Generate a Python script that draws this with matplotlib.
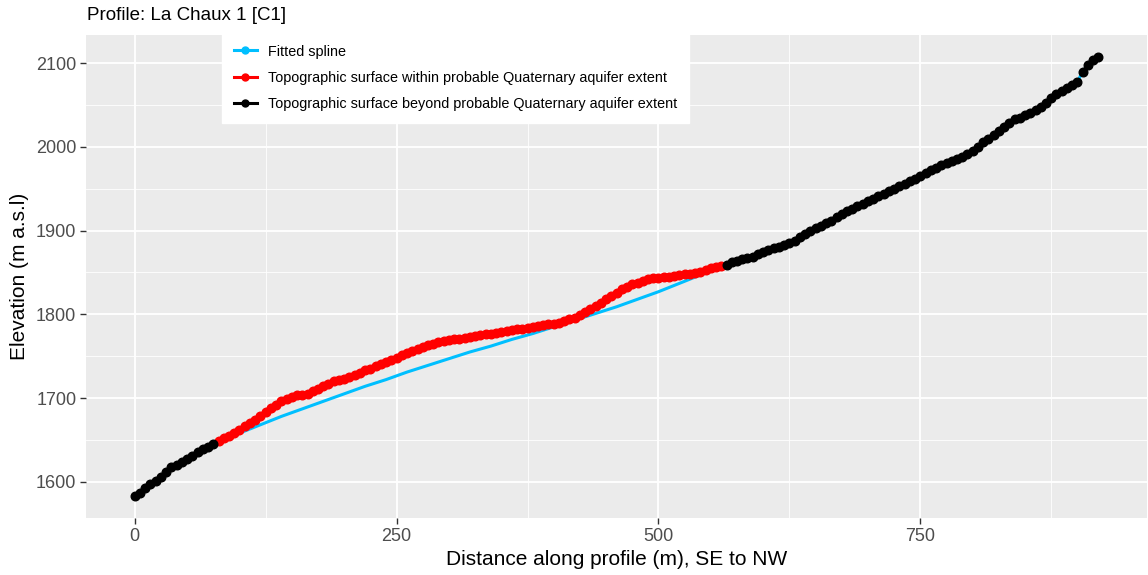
import numpy as np
import matplotlib
matplotlib.use('Agg')
import matplotlib.pyplot as plt
from matplotlib.lines import Line2D

plt.rcParams['font.family'] = ['Liberation Sans', 'DejaVu Sans']

#######################################################
# Profile data (distance in m, elevation in m a.s.l.)
Step = 5

# black points, SE end (0 .. 75 m)
Dist_SE = [0, 5, 10, 15, 20, 25, 30, 35, 40, 45, 50, 55, 60, 65, 70, 75]
Elev_SE = [1583, 1587, 1592, 1597, 1601, 1606, 1611, 1617, 1620, 1623, 1627,
           1631, 1635, 1639, 1642, 1645]

# red points, within the aquifer extent (80 .. 560 m)
Dist_Aq = list(range(80, 561, Step))
Elev_Aq = [1649, 1652, 1655, 1658, 1662, 1666, 1670, 1674, 1678, 1683,
           1688, 1692, 1696, 1699, 1701, 1703, 1704, 1705, 1708, 1711,
           1714, 1717, 1720, 1722, 1723, 1725, 1727, 1730, 1733, 1735,
           1738, 1741, 1743, 1746, 1748, 1751, 1754, 1756, 1759, 1761,
           1763, 1765, 1767, 1768, 1769, 1770, 1771, 1772, 1773, 1774,
           1775, 1776, 1777, 1778, 1779, 1780, 1781, 1782, 1783, 1784,
           1785, 1786, 1787, 1788, 1789, 1790, 1792, 1794, 1796, 1799,
           1803, 1806, 1810, 1814, 1818, 1822, 1826, 1830, 1833, 1836,
           1838, 1840, 1842, 1843, 1844, 1845, 1845, 1846, 1847, 1848,
           1848, 1849, 1851, 1853, 1855, 1856, 1858]

# black points, NW end (565 .. 920 m)
Dist_NW = list(range(565, 921, Step))
Elev_NW = [1859, 1862, 1864, 1866, 1867, 1869, 1872, 1874, 1877, 1879,
           1881, 1883, 1885, 1888, 1892, 1896, 1899, 1903, 1906, 1909,
           1912, 1916, 1920, 1923, 1926, 1929, 1932, 1935, 1938, 1941,
           1944, 1947, 1950, 1953, 1956, 1959, 1962, 1965, 1969, 1972,
           1975, 1978, 1981, 1983, 1986, 1988, 1991, 1995, 2000, 2006,
           2010, 2014, 2019, 2024, 2029, 2033, 2035, 2038, 2040, 2044,
           2048, 2053, 2058, 2063, 2067, 2070, 2074, 2078, 2090, 2098,
           2104, 2108]

# fitted spline below the aquifer section
Dist_Spline = [80, 100, 120, 140, 160, 180, 200, 220, 240, 260, 280, 300, 320,
               340, 360, 380, 400, 420, 440, 460, 480, 500, 520, 540, 560]
Elev_Spline = [1648, 1658, 1668, 1678, 1687, 1696, 1705, 1714, 1722, 1731,
               1739, 1747, 1755, 1762, 1770, 1777, 1785, 1793, 1801, 1809,
               1818, 1827, 1837, 1847, 1857]

# distances where the black line is broken
Breaks = [32, 807, 902]

Title = 'Profile: La Chaux 1 [C1]'
X_Label = 'Distance along profile (m), SE to NW'
Y_Label = 'Elevation (m a.s.l)'
Legend_Labels = ['Fitted spline',
                 'Topographic surface within probable Quaternary aquifer extent',
                 'Topographic surface beyond probable Quaternary aquifer extent']
#######################################################

Blue = '#00BFFF'
Red = '#FF0000'

fig = plt.figure(figsize=(11.48, 5.75), dpi=100)
ax = fig.add_axes([86/1148, 1-518/575, 1061/1148, 483/575])
ax.set_facecolor('#EBEBEB')

# spline runs under the whole profile
Sp_X = Dist_SE + Dist_Spline + Dist_NW
Sp_Y = Elev_SE + Elev_Spline + Elev_NW
ax.plot(Sp_X, Sp_Y, color=Blue, lw=2.2, zorder=2)

ax.plot(Dist_Aq, Elev_Aq, color=Red, lw=2.2, marker='o', ms=6.2, zorder=3)

All_X = np.array(Dist_SE + Dist_NW)
All_Y = np.array(Elev_SE + Elev_NW)
Edges = [-1] + Breaks + [10000]
for i in range(len(Edges) - 1):
    m = (All_X > Edges[i]) & (All_X < Edges[i+1])
    # keep SE and NW parts apart
    for part in [All_X < 78, All_X > 562]:
        mm = m & part
        if mm.sum() > 0:
            ax.plot(All_X[mm], All_Y[mm], color='black', lw=2.2, marker='o', ms=6.2, zorder=4)

ax.set_xlim(-46.5, 966.4)
ax.set_ylim(1556.6, 2133.8)
ax.set_xticks([0, 250, 500, 750])
ax.set_xticks([125, 375, 625, 875], minor=True)
ax.set_yticks([1600, 1700, 1800, 1900, 2000, 2100])
ax.set_yticks([1650, 1750, 1850, 1950, 2050], minor=True)
ax.grid(which='major', color='white', lw=1.3)
ax.grid(which='minor', color='white', lw=0.6)
ax.set_axisbelow(True)
for s in ax.spines.values():
    s.set_visible(False)
ax.tick_params(which='major', length=4, width=1, color='#333333', labelcolor='#4D4D4D',
               labelsize=13, pad=3)
ax.tick_params(which='minor', length=0)

ax.set_xlabel(X_Label, fontsize=15, color='black', labelpad=4)
ax.set_ylabel(Y_Label, fontsize=15, color='black', labelpad=5)
fig.text(87/1148, 1-16/575, Title, fontsize=13.5, va='center', ha='left')

Handles = [Line2D([], [], color=Blue, lw=2.2, marker='o', ms=5),
           Line2D([], [], color=Red, lw=2.2, marker='o', ms=5),
           Line2D([], [], color='black', lw=2.2, marker='o', ms=5)]
leg = fig.legend(Handles, Legend_Labels, loc='upper left',
                 bbox_to_anchor=(222/1148, 1-33/575), fontsize=10.4,
                 frameon=True, fancybox=False, facecolor='white', edgecolor='white',
                 framealpha=1, handlelength=1.6, labelspacing=0.85, borderpad=0.8,
                 handletextpad=0.8, borderaxespad=0)
leg.set_zorder(10)

plt.savefig('out.png', dpi=100)
